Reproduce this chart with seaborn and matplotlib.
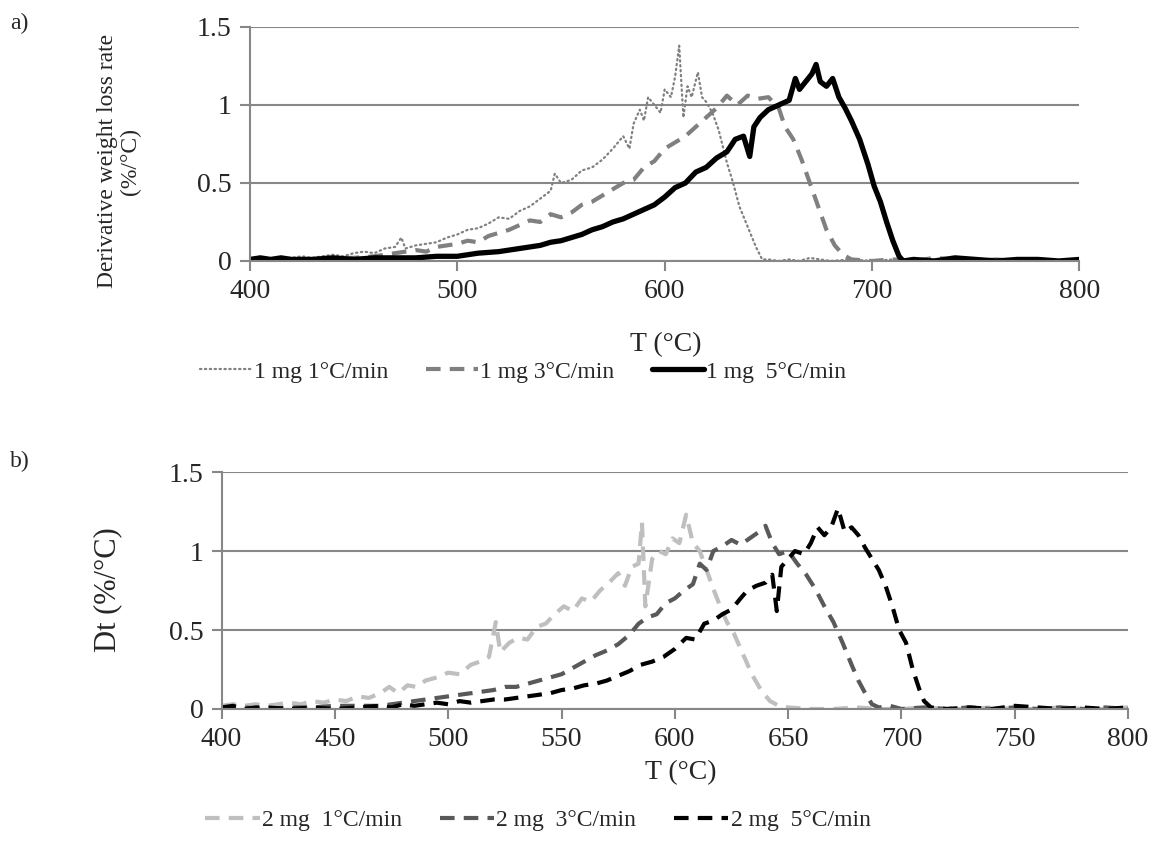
import numpy as np
import pandas as pd
import matplotlib
matplotlib.use('Agg')
import matplotlib.pyplot as plt
import seaborn as sns

# ---- panel a) 1 mg samples ----
t_1mg_1 = [400, 405, 410, 415, 420, 425, 430, 435, 440, 445, 450, 455, 460, 465, 470, 473, 475,
           480, 485, 490, 495, 500, 505, 510, 515, 520, 525, 530, 535, 540, 545, 547, 550, 555,
           560, 565, 570, 575, 580, 583, 585, 588, 590, 592, 595, 598, 600, 603, 605, 607, 609,
           611, 613, 616, 618, 620, 623, 626, 630, 633, 636, 640, 644, 647, 650, 655, 660, 665,
           670, 675, 680, 690, 700, 710, 720, 730, 740, 750, 760, 770, 780, 790, 800]
v_1mg_1 = [0.01, 0.02, 0.01, 0.02, 0.02, 0.03, 0.02, 0.03, 0.04, 0.03, 0.05, 0.06, 0.05, 0.08, 0.09,
           0.15, 0.08, 0.10, 0.11, 0.12, 0.15, 0.17, 0.20, 0.21, 0.24, 0.28, 0.27, 0.32, 0.35, 0.40,
           0.45, 0.56, 0.50, 0.52, 0.58, 0.60, 0.65, 0.72, 0.80, 0.72, 0.88, 0.97, 0.90, 1.05, 1.00,
           0.95, 1.10, 1.05, 1.18, 1.38, 0.92, 1.12, 1.05, 1.21, 1.05, 1.02, 0.95, 0.84, 0.63, 0.50,
           0.35, 0.22, 0.09, 0.01, 0.01, 0.00, 0.01, 0.00, 0.02, 0.01, 0.00, 0.01, 0.00, 0.01, 0.00,
           0.01, 0.02, 0.00, 0.01, 0.00, 0.01, 0.00, 0.01]

t_1mg_3 = [400, 410, 420, 430, 440, 450, 460, 470, 475, 480, 485, 490, 495, 500, 505, 510, 515,
           520, 525, 530, 535, 540, 545, 550, 555, 560, 565, 570, 575, 580, 585, 590, 595, 600,
           605, 610, 615, 620, 625, 630, 635, 640, 645, 650, 655, 658, 662, 666, 670, 674, 678,
           682, 686, 690, 700, 710, 720, 730, 740, 750, 760, 770, 780, 790, 800]
v_1mg_3 = [0.00, 0.01, 0.00, 0.01, 0.02, 0.02, 0.03, 0.05, 0.06, 0.07, 0.06, 0.09, 0.10, 0.11, 0.13,
           0.12, 0.16, 0.18, 0.20, 0.23, 0.26, 0.25, 0.30, 0.28, 0.31, 0.36, 0.38, 0.42, 0.46, 0.50,
           0.52, 0.60, 0.64, 0.72, 0.76, 0.80, 0.86, 0.92, 0.98, 1.06, 1.00, 1.06, 1.04, 1.05, 0.98,
           0.86, 0.78, 0.65, 0.50, 0.35, 0.20, 0.10, 0.04, 0.01, 0.00, 0.01, 0.00, 0.02, 0.01, 0.00,
           0.01, 0.00, 0.01, 0.00, 0.01]

t_1mg_5 = [400, 405, 410, 415, 420, 430, 440, 450, 460, 470, 480, 490, 500, 505, 510, 520, 530,
           540, 545, 550, 555, 560, 565, 570, 575, 580, 585, 590, 595, 600, 605, 610, 615, 620,
           625, 630, 634, 638, 641, 643, 646, 650, 655, 660, 663, 665, 668, 671, 673, 675, 678,
           681, 684, 687, 690, 694, 698, 701, 704, 707, 710, 713, 715, 720, 730, 740, 750, 760,
           770, 780, 790, 800]
v_1mg_5 = [0.01, 0.02, 0.01, 0.02, 0.01, 0.01, 0.02, 0.01, 0.02, 0.02, 0.02, 0.03, 0.03, 0.04, 0.05,
           0.06, 0.08, 0.10, 0.12, 0.13, 0.15, 0.17, 0.20, 0.22, 0.25, 0.27, 0.30, 0.33, 0.36, 0.41,
           0.47, 0.50, 0.57, 0.60, 0.66, 0.70, 0.78, 0.80, 0.67, 0.86, 0.92, 0.97, 1.00, 1.03, 1.17,
           1.10, 1.15, 1.20, 1.26, 1.15, 1.12, 1.17, 1.05, 0.98, 0.90, 0.78, 0.62, 0.48, 0.38, 0.25,
           0.13, 0.03, 0.00, 0.01, 0.00, 0.02, 0.01, 0.00, 0.01, 0.01, 0.00, 0.01]

# ---- panel b) 2 mg samples ----
t_2mg_1 = [400, 405, 410, 415, 420, 425, 430, 435, 440, 445, 450, 455, 460, 465, 470, 474, 478,
           482, 486, 490, 495, 500, 505, 510, 514, 518, 521, 523, 527, 531, 535, 539, 543, 547,
           551, 555, 559, 563, 567, 571, 575, 578, 581, 584, 585.5, 587, 590, 593, 596, 599, 602,
           605, 608, 611, 614, 617, 620, 623, 626, 630, 634, 638, 642, 646, 650, 660, 670, 680,
           690, 700, 710, 720, 730, 740, 750, 760, 770, 780, 790, 800]
v_2mg_1 = [0.02, 0.03, 0.02, 0.03, 0.02, 0.03, 0.04, 0.03, 0.05, 0.04, 0.06, 0.05, 0.08, 0.07, 0.10,
           0.14, 0.10, 0.15, 0.14, 0.18, 0.20, 0.23, 0.22, 0.28, 0.30, 0.33, 0.55, 0.36, 0.42, 0.45,
           0.44, 0.52, 0.54, 0.60, 0.65, 0.62, 0.70, 0.68, 0.75, 0.80, 0.86, 0.78, 0.90, 0.92, 1.18,
           0.65, 0.95, 1.00, 0.98, 1.08, 1.05, 1.23, 1.05, 1.00, 0.88, 0.76, 0.65, 0.55, 0.48, 0.35,
           0.22, 0.12, 0.05, 0.02, 0.01, 0.00, 0.00, 0.01, 0.00, 0.00, 0.01, 0.00, 0.00, 0.01, 0.00,
           0.00, 0.01, 0.00, 0.00, 0.01]

t_2mg_3 = [400, 410, 420, 430, 440, 450, 460, 470, 475, 480, 485, 490, 495, 500, 505, 510, 515,
           520, 525, 530, 535, 540, 545, 550, 555, 560, 565, 570, 575, 580, 584, 588, 592, 596,
           600, 604, 608, 611, 614, 617, 621, 625, 629, 633, 637, 640, 643, 646, 650, 654, 658,
           662, 666, 670, 674, 678, 681, 684, 687, 690, 695, 700, 710, 720, 730, 740, 750, 760,
           770, 780, 790, 800]
v_2mg_3 = [0.00, 0.01, 0.00, 0.01, 0.01, 0.02, 0.02, 0.02, 0.03, 0.04, 0.05, 0.06, 0.07, 0.08, 0.09,
           0.10, 0.11, 0.12, 0.14, 0.14, 0.16, 0.18, 0.20, 0.22, 0.26, 0.30, 0.34, 0.37, 0.41, 0.47,
           0.54, 0.58, 0.60, 0.67, 0.70, 0.75, 0.79, 0.92, 0.88, 1.00, 1.03, 1.07, 1.04, 1.08, 1.12,
           1.16, 1.05, 0.98, 1.00, 0.92, 0.85, 0.76, 0.65, 0.55, 0.42, 0.28, 0.18, 0.10, 0.03, 0.01,
           0.02, 0.00, 0.01, 0.00, 0.01, 0.00, 0.01, 0.00, 0.01, 0.00, 0.01, 0.00]

t_2mg_5 = [400, 405, 410, 415, 420, 430, 440, 450, 460, 470, 475, 480, 485, 490, 495, 500, 505,
           510, 515, 520, 525, 530, 535, 540, 545, 550, 555, 560, 565, 570, 575, 580, 585, 590,
           595, 600, 605, 609, 613, 617, 621, 625, 629, 632, 636, 640, 643, 645, 647, 650, 653,
           657, 660, 663, 666, 669, 672, 675, 678, 681, 684, 687, 690, 693, 696, 699, 702, 705,
           708, 710, 713, 720, 730, 740, 750, 760, 770, 780, 790, 800]
v_2mg_5 = [0.01, 0.02, 0.00, 0.01, 0.01, 0.00, 0.01, 0.00, 0.01, 0.02, 0.01, 0.03, 0.02, 0.03, 0.04,
           0.03, 0.05, 0.04, 0.05, 0.06, 0.06, 0.07, 0.08, 0.09, 0.10, 0.12, 0.13, 0.15, 0.16, 0.18,
           0.21, 0.24, 0.28, 0.30, 0.33, 0.38, 0.45, 0.44, 0.54, 0.56, 0.60, 0.63, 0.70, 0.75, 0.78,
           0.80, 0.85, 0.62, 0.90, 0.95, 1.00, 0.98, 1.05, 1.15, 1.10, 1.15, 1.27, 1.12, 1.15, 1.10,
           1.02, 0.95, 0.88, 0.78, 0.65, 0.50, 0.42, 0.25, 0.12, 0.05, 0.01, 0.00, 0.01, 0.00, 0.02,
           0.01, 0.00, 0.01, 0.00, 0.01]

labels_a = ['1 mg 1°C/min', '1 mg 3°C/min', '1 mg  5°C/min']
labels_b = ['2 mg  1°C/min', '2 mg  3°C/min', '2 mg  5°C/min']

sns.set_style('white')
plt.rcParams['font.family'] = ['Liberation Serif', 'DejaVu Serif']

fig = plt.figure(figsize=(11.57, 8.49), dpi=100)
ax1 = fig.add_axes([0.216, 0.6926, 0.717, 0.2756])
ax2 = fig.add_axes([0.1915, 0.1649, 0.7835, 0.2791])

grid_c = '#878787'


def style_axis(ax, xticks):
    ax.set_xlim(400, 800)
    ax.set_ylim(0, 1.5)
    ax.set_yticks([0, 0.5, 1, 1.5])
    ax.set_yticklabels(['0', '0.5', '1', '1.5'])
    ax.set_xticks(xticks)
    ax.yaxis.grid(True, color=grid_c, linewidth=1.5)
    ax.set_axisbelow(True)
    for s in ['top', 'right']:
        ax.spines[s].set_visible(False)
    for s in ['left', 'bottom']:
        ax.spines[s].set_color(grid_c)
        ax.spines[s].set_linewidth(1.5)
    ax.tick_params(axis='both', which='both', direction='out', length=7, width=1.5,
                   color=grid_c, labelsize=20, pad=6, left=True, bottom=True)
    ax.set_xlabel('')
    ax.set_ylabel('')


# panel a
sns.lineplot(x=t_1mg_1, y=v_1mg_1, ax=ax1, color='#808080', linewidth=1.6,
             linestyle=(0, (0.6, 1.6)), dash_capstyle='round', label=labels_a[0],
             sort=False, estimator=None)
sns.lineplot(x=t_1mg_3, y=v_1mg_3, ax=ax1, color='#808080', linewidth=3,
             linestyle=(0, (3.5, 2.2)), label=labels_a[1], sort=False, estimator=None)
sns.lineplot(x=t_1mg_5, y=v_1mg_5, ax=ax1, color='black', linewidth=3.8,
             label=labels_a[2], sort=False, estimator=None)
style_axis(ax1, [400, 500, 600, 700, 800])
ax1.legend_.remove()

# panel b
sns.lineplot(x=t_2mg_1, y=v_2mg_1, ax=ax2, color='#BFBFBF', linewidth=3,
             linestyle=(0, (3.5, 2.2)), label=labels_b[0], sort=False, estimator=None)
sns.lineplot(x=t_2mg_3, y=v_2mg_3, ax=ax2, color='#595959', linewidth=3,
             linestyle=(0, (3.5, 2.2)), label=labels_b[1], sort=False, estimator=None)
sns.lineplot(x=t_2mg_5, y=v_2mg_5, ax=ax2, color='black', linewidth=3,
             linestyle=(0, (3.5, 2.2)), label=labels_b[2], sort=False, estimator=None)
style_axis(ax2, list(range(400, 801, 50)))
ax2.legend_.remove()

# axis titles
fig.text(0.103, 0.81, 'Derivative weight loss rate\n(%/°C)', rotation=90, ha='center',
         va='center', fontsize=17, linespacing=1.1, multialignment='center')
fig.text(0.093, 0.305, 'Dt (%/°C)', rotation=90, ha='center', va='center', fontsize=22)
fig.text(0.575, 0.594, 'T (°C)', ha='center', va='center', fontsize=20)
fig.text(0.588, 0.09, 'T (°C)', ha='center', va='center', fontsize=20)
fig.text(0.009, 0.972, 'a)', ha='left', va='center', fontsize=17)
fig.text(0.009, 0.457, 'b)', ha='left', va='center', fontsize=17)

h1, l1 = ax1.get_legend_handles_labels()
fig.legend(h1, l1, loc='center', bbox_to_anchor=(0.452, 0.562), ncol=3, frameon=False,
           fontsize=17, handlelength=2.2, handletextpad=0.1, columnspacing=1.6)
h2, l2 = ax2.get_legend_handles_labels()
fig.legend(h2, l2, loc='center', bbox_to_anchor=(0.465, 0.034), ncol=3, frameon=False,
           fontsize=17, handlelength=2.3, handletextpad=0.1, columnspacing=1.6)

fig.savefig('out.png', dpi=100)
